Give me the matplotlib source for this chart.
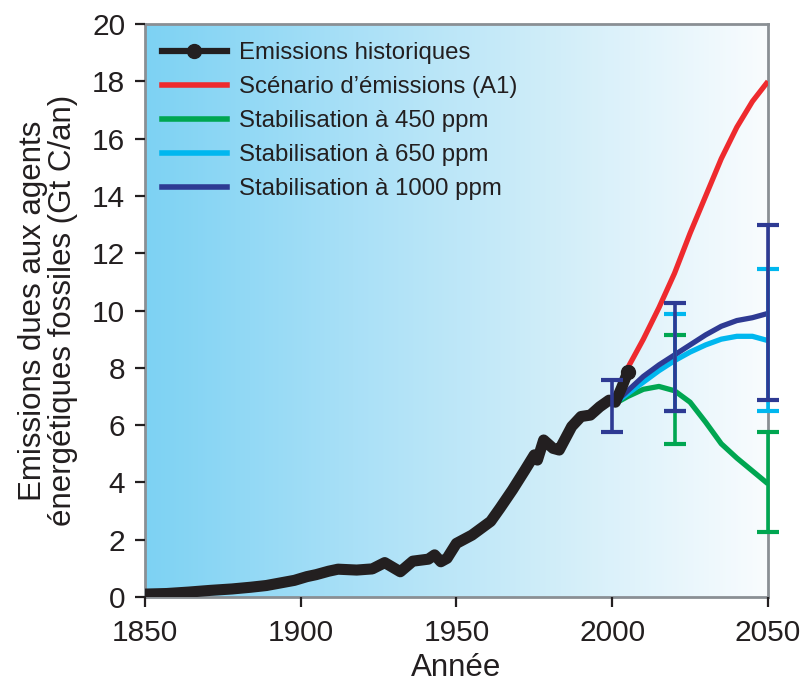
import numpy as np
import matplotlib
matplotlib.use("Agg")
import matplotlib.pyplot as plt
from matplotlib.lines import Line2D
from matplotlib.colors import LinearSegmentedColormap

plt.rcParams['font.family'] = ['Liberation Sans', 'DejaVu Sans']

# ---------------- data ----------------
hist_years = [1850, 1857, 1864, 1871, 1878, 1884, 1889, 1894, 1898, 1902, 1905, 1909, 1912,
              1918, 1923, 1927, 1932, 1936, 1941, 1943, 1945, 1947, 1950, 1955, 1961,
              1964, 1968, 1972, 1975, 1976, 1978, 1981, 1983, 1987, 1990, 1993, 1996,
              1999, 2001, 2003, 2005]
hist_vals = [0.10, 0.12, 0.17, 0.23, 0.28, 0.34, 0.40, 0.50, 0.58, 0.71, 0.78, 0.90, 0.97,
             0.94, 0.98, 1.20, 0.88, 1.25, 1.32, 1.47, 1.23, 1.35, 1.87, 2.16, 2.64,
             3.10, 3.74, 4.43, 4.96, 4.78, 5.48, 5.19, 5.13, 5.95, 6.30, 6.35, 6.64,
             6.87, 6.80, 7.30, 7.85]

proj_years = [2000, 2005, 2010, 2015, 2020, 2025, 2030, 2035, 2040, 2045, 2050]
a1_vals    = [6.7, 8.0, 9.0, 10.1, 11.3, 12.7, 14.0, 15.3, 16.4, 17.3, 18.0]
s450_vals  = [6.7, 7.0, 7.25, 7.35, 7.2, 6.8, 6.1, 5.35, 4.85, 4.4, 3.95]
s650_vals  = [6.7, 7.1, 7.5, 7.9, 8.25, 8.55, 8.8, 9.0, 9.1, 9.1, 8.95]
s1000_vals = [6.7, 7.2, 7.7, 8.1, 8.45, 8.8, 9.15, 9.45, 9.65, 9.75, 9.9]

bar1000_years = [2000, 2020, 2050]
bar1000_low   = [5.75, 6.49, 6.86]
bar1000_high  = [7.57, 10.28, 12.97]
bar650_years  = [2020, 2050]
bar650_low    = [6.50, 6.48]
bar650_high   = [9.88, 11.44]
bar450_years  = [2020, 2050]
bar450_low    = [5.33, 2.26]
bar450_high   = [9.13, 5.75]

labels = ["Emissions historiques", "Scénario d\u2019émissions (A1)",
          "Stabilisation à 450 ppm", "Stabilisation à 650 ppm",
          "Stabilisation à 1000 ppm"]
x_ticks = [1850, 1900, 1950, 2000, 2050]
y_ticks = list(range(0, 21, 2))

# ---------------- styles ----------------
c_hist = '#231f20'
c_red = '#ee2a2e'
c_green = '#00a651'
c_lblue = '#00b7ef'
c_dblue = '#2e3a93'
txt = '#231f20'

fig = plt.figure(figsize=(8, 6.88), dpi=100)
ax = fig.add_axes([0.181, 0.1323, 0.779, 0.8327])
ax.set_xlim(1850, 2050)
ax.set_ylim(0, 20)

# gradient background
cmap = LinearSegmentedColormap.from_list('bg', ['#7dd2f3', '#a9e0f7', '#d2eef9', '#f9fcfe'])
grad = np.linspace(0, 1, 256).reshape(1, -1)
ax.imshow(grad, cmap=cmap, extent=[1850, 2050, 0, 20], aspect='auto', zorder=0,
          interpolation='bicubic')

lw = 3.8
ax.plot(proj_years, s450_vals, color=c_green, lw=lw, zorder=2, solid_capstyle='butt')
ax.plot(proj_years, s650_vals, color=c_lblue, lw=lw, zorder=2.1, solid_capstyle='butt')
ax.plot(proj_years, s1000_vals, color=c_dblue, lw=lw, zorder=2.2, solid_capstyle='butt')
ax.plot(proj_years, a1_vals, color=c_red, lw=lw, zorder=2.3, solid_capstyle='butt')

ax.plot(hist_years, hist_vals, color=c_hist, lw=8, zorder=3,
        solid_capstyle='round', solid_joinstyle='round')
ax.plot(hist_years[-1:], hist_vals[-1:], 'o', color=c_hist, ms=10, zorder=3)


def bars(years, low, high, color, z):
    low = np.array(low)
    high = np.array(high)
    mid = (low + high) / 2
    err = (high - low) / 2
    eb = ax.errorbar(years, mid, yerr=err, fmt='none', ecolor=color, elinewidth=2.6,
                     capsize=7.8, capthick=3.0, zorder=z)
    for art in list(eb.lines[1]) + list(eb.lines[2]):
        art.set_clip_on(False)
        art.set_zorder(z)


bars(bar450_years, bar450_low, bar450_high, c_green, 4)
bars(bar650_years, bar650_low, bar650_high, c_lblue, 4.1)
bars(bar1000_years, bar1000_low, bar1000_high, c_dblue, 4.2)

# spines and ticks
for s in ax.spines.values():
    s.set_color('#8a8f94')
    s.set_linewidth(2.0)
    s.set_zorder(1)
ax.set_xticks(x_ticks)
ax.set_yticks(y_ticks)
ax.tick_params(axis='both', direction='out', length=7, width=1.6, color='#231f20',
               labelsize=21.5, labelcolor=txt)
ax.tick_params(axis='x', pad=9)
ax.tick_params(axis='y', pad=7)

ax.set_xlabel("Année", fontsize=22.5, color=txt, labelpad=4)
ax.set_ylabel("Emissions dues aux agents\nénergétiques fossiles (Gt C/an)",
              fontsize=22.5, color=txt, labelpad=10, linespacing=1.02)

handles = [Line2D([], [], color=c_hist, lw=4.5, marker='o', ms=10),
           Line2D([], [], color=c_red, lw=4),
           Line2D([], [], color=c_green, lw=4),
           Line2D([], [], color=c_lblue, lw=4),
           Line2D([], [], color=c_dblue, lw=4)]
leg = ax.legend(handles, labels, loc='upper left', frameon=False, fontsize=17.3,
                handlelength=2.7, handletextpad=0.5, labelspacing=0.5,
                borderaxespad=0.0, bbox_to_anchor=(0.012, 0.985), numpoints=1)
for t in leg.get_texts():
    t.set_color(txt)

fig.savefig('out.png', dpi=100)
